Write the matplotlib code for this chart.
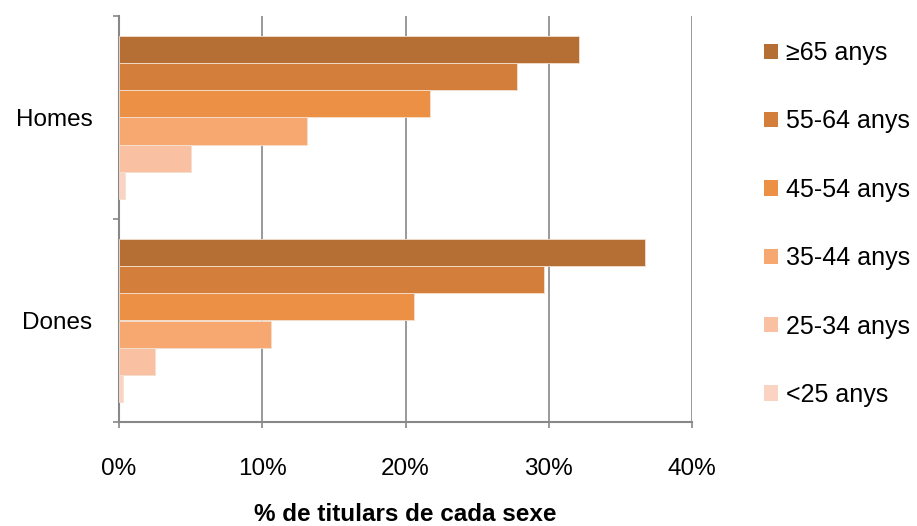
import matplotlib
matplotlib.use("Agg")
import matplotlib.pyplot as plt
from matplotlib.patches import Patch
import numpy as np

plt.rcParams['font.family'] = ['Liberation Sans', 'DejaVu Sans']

categories = ['Homes', 'Dones']
age_groups = ['≥65 anys', '55-64 anys', '45-54 anys', '35-44 anys', '25-34 anys', '<25 anys']
homes = [32.1, 27.8, 21.7, 13.1, 5.0, 0.4]
dones = [36.7, 29.7, 20.6, 10.6, 2.5, 0.27]
xticks = [0, 10, 20, 30, 40]
xtick_labels = ['0%', '10%', '20%', '30%', '40%']
colors = ['#B56E33', '#D37F3B', '#EC9045', '#F7A870', '#F9C0A1', '#FAD3C2']

values = np.array([homes, dones])
FS = 17.5

fig = plt.figure(figsize=(9.17, 5.26), dpi=100)
ax = fig.add_axes([119/917, 1-422/526, (692-119)/917, (422-16)/526])

n = len(age_groups)
h = 1.0 / (n + 1.5)
for j in range(n):
    ypos = np.arange(len(categories)) - 0.4 + h * (j + 0.5)
    ax.barh(ypos, values[:, j], height=h, color=colors[j],
            edgecolor='#F3E0D0', linewidth=0.6, zorder=3, label=age_groups[j])

ax.set_xlim(0, 40)
ax.set_ylim(1.5, -0.5)
ax.set_xticks(xticks)
ax.set_xticklabels(xtick_labels, fontsize=FS)
ax.set_yticks(range(len(categories)))
ax.set_yticklabels(categories, fontsize=FS)
ax.set_yticks([-0.5, 0.5, 1.5], minor=True)
ax.tick_params(axis='y', which='major', length=0, pad=19)
ax.tick_params(axis='y', which='minor', length=4.5, color='#888888', width=1.2)
ax.tick_params(axis='x', which='major', length=4.5, color='#888888', width=1.2, pad=21.5)

ax.grid(axis='x', color='#888888', linewidth=1.2, zorder=0)
ax.set_axisbelow(True)
for s in ['top', 'right']:
    ax.spines[s].set_visible(False)
for s in ['left', 'bottom']:
    ax.spines[s].set_color('#888888')
    ax.spines[s].set_linewidth(1.5)

ax.set_xlabel('% de titulars de cada sexe', fontsize=FS, fontweight='bold', labelpad=16.5)

handles = [Patch(facecolor=c, edgecolor='none') for c in colors]
fig.legend(handles, age_groups, loc='upper left', bbox_to_anchor=(764/917, 1-41/526),
           frameon=False, fontsize=18, handlelength=0.56, handleheight=0.56,
           handletextpad=0.3, labelspacing=1.775, borderaxespad=0, borderpad=0)

fig.savefig('out.png', dpi=100)
